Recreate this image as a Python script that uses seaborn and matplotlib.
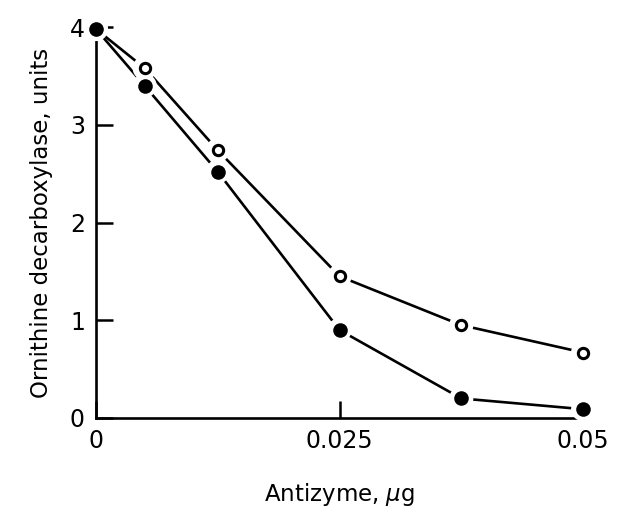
import matplotlib
matplotlib.use("Agg")
import matplotlib.pyplot as plt
import seaborn as sns
import pandas as pd

# values
antizyme = [0, 0.005, 0.0125, 0.025, 0.0375, 0.05]
odc_filled = [3.98, 3.40, 2.52, 0.90, 0.20, 0.09]
odc_open = [3.98, 3.58, 2.74, 1.45, 0.95, 0.67]

df = pd.DataFrame({"antizyme": antizyme, "filled": odc_filled, "open": odc_open})

sns.set_style("ticks")
plt.rcParams["font.family"] = ["DejaVu Sans"]
plt.rcParams.update({"text.color": "black", "axes.labelcolor": "black",
                     "xtick.color": "black", "ytick.color": "black",
                     "axes.edgecolor": "black"})

fig = plt.figure(figsize=(6.19, 5.11), dpi=100)
ax = fig.add_axes([0.155, 0.182, 0.787, 0.765])

# lines
sns.lineplot(data=df, x="antizyme", y="filled", color="black", linewidth=1.9, ax=ax)
sns.lineplot(data=df, x="antizyme", y="open", color="black", linewidth=1.9, ax=ax)

# white halos give the little gaps where the line meets a point
for col in ["open", "filled"]:
    sns.scatterplot(data=df, x="antizyme", y=col, s=300, color="white",
                    edgecolor="none", clip_on=False, zorder=4, ax=ax)
sns.scatterplot(data=df, x="antizyme", y="open", s=55, facecolor="white",
                edgecolor="black", linewidth=2.2, clip_on=False, zorder=5, ax=ax)
sns.scatterplot(data=df, x="antizyme", y="filled", s=110, color="black",
                edgecolor="black", linewidth=0, clip_on=False, zorder=6, ax=ax)

ax.set_xlim(0, 0.05)
ax.set_ylim(0, 4)
ax.set_xticks([0, 0.025, 0.05])
ax.set_xticklabels(["0", "0.025", "0.05"])
ax.set_yticks([0, 1, 2, 3, 4])
ax.tick_params(direction="in", length=12, width=1.8, labelsize=17, pad=8)
for s in ["left", "bottom"]:
    ax.spines[s].set_linewidth(1.9)
sns.despine(ax=ax)

ax.set_xlabel("Antizyme, $\\mu$g", fontsize=16.5, labelpad=20)
ax.set_ylabel("Ornithine decarboxylase, units", fontsize=16.5, labelpad=12)

fig.savefig("out.png", dpi=100)
